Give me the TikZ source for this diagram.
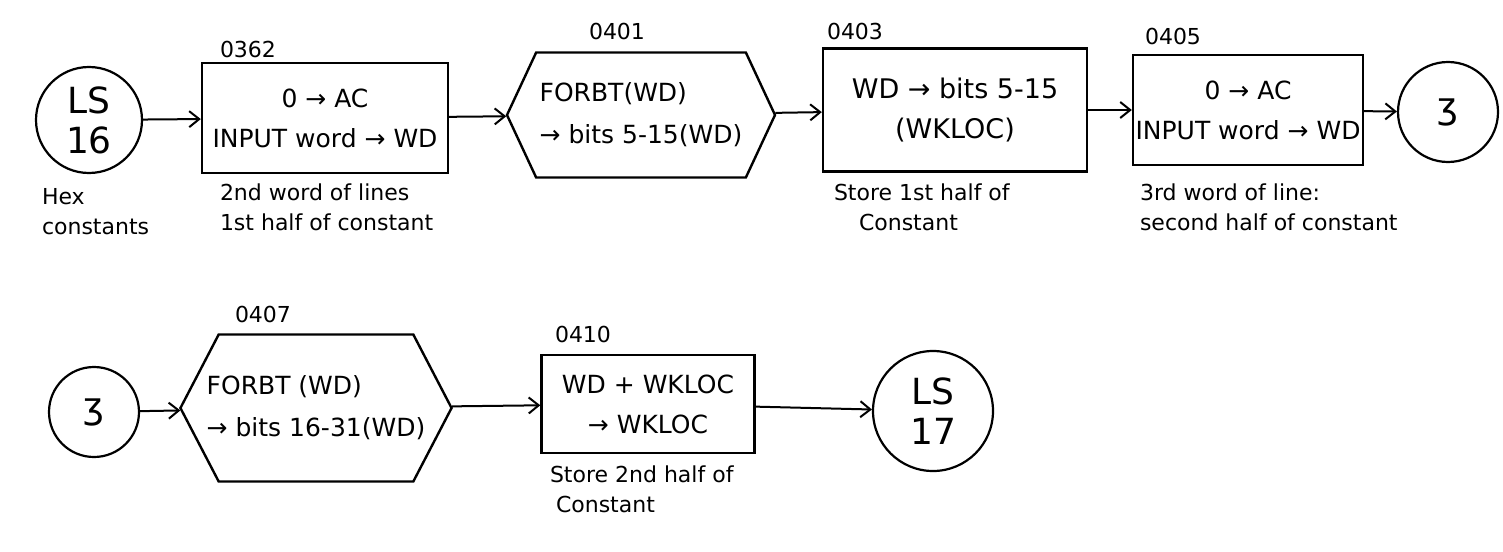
\documentclass[tikz,border=0pt]{standalone}
\usepackage{fontspec}
\setmainfont{DejaVu Sans}
\usetikzlibrary{positioning,shapes.symbols,arrows.meta}

\tikzset{every picture/.style={line width=2pt}}
\tikzset{
  procbox/.style={draw, line width=2.4pt, rectangle, align=center, inner sep=2pt,
    font=\fontsize{25}{40}\selectfont},
  hexbox/.style={draw, line width=2.4pt, signal, signal to=west and east,
    signal pointer angle=130, align=left, inner sep=2pt,
    font=\fontsize{25}{42}\selectfont},
  connect/.style={draw, circle, line width=2.2pt, align=center, inner sep=0pt,
    font=\fontsize{36}{40}\selectfont},
  addr/.style={inner sep=1pt, font=\fontsize{22}{24}\selectfont},
  note/.style={inner sep=1pt, align=left, font=\fontsize{22}{30}\selectfont},
}

\begin{document}
\begin{tikzpicture}[x=1pt,y=1pt,yscale=-1,xscale=1,>={Straight Barb[length=10pt,width=16pt]}]

\useasboundingbox (0,0) rectangle (1503,551);

% first row
\node [connect, minimum size=106] (ls16) at (89,120) {LS\\16};
\node [procbox, minimum width=246, minimum height=110] (b0362) at (325,118) {0 → AC\\INPUT word → WD};
\node [hexbox, minimum width=268, minimum height=125] (h0401) at (641,115) {FORBT(WD)\\→ bits 5-15(WD)};
\node [procbox, minimum width=264, minimum height=123, font=\fontsize{27}{40}\selectfont] (b0403) at (955,110) {WD → bits 5-15\\(WKLOC)};
\node [procbox, minimum width=230, minimum height=110] (b0405) at (1248,110) {0 → AC\\INPUT word → WD};
\node [connect, minimum size=100] (zout) at (1448,112) {ʒ};

\draw [->] (ls16) -- (b0362);
\draw [->] (b0362) -- (h0401);
\draw [->] (h0401) -- (b0403);
\draw [->] (b0403) -- (b0405);
\draw [->] (b0405) -- (zout);

\node [addr, anchor=south west] (l0362) at (218,60) {0362};
\node [addr, anchor=south west] (l0401) at (587,42) {0401};
\node [addr, anchor=south west] (l0403) at (825,42) {0403};
\node [addr, anchor=south west] (l0405) at (1143,47) {0405};

\node [note, anchor=north west] (nhex) at (40,186) {Hex\\constants};
\node [note, anchor=north west] (n0362) at (218,182) {2nd word of lines\\1st half of constant};
\node [note, anchor=north west] (n0403) at (832,182) {Store 1st half of\\\hspace*{25pt}Constant};
\node [note, anchor=north west] (n0405) at (1138,182) {3rd word of line:\\second half of constant};

% second row
\node [connect, minimum size=90] (zin) at (94,412) {ʒ};
\node [hexbox, signal pointer angle=125, inner xsep=-12pt, minimum width=262, minimum height=147] (h0407) at (316,408) {FORBT (WD)\\→ bits 16-31(WD)};
\node [procbox, minimum width=213, minimum height=98] (b0410) at (648,404) {WD + WKLOC\\→ WKLOC};
\node [connect, minimum size=120] (ls17) at (933,411) {LS\\17};

\draw [->] (zin) -- (h0407);
\draw [->] (h0407) -- (b0410);
\draw [->] (b0410) -- (ls17);

\node [addr, anchor=south west] (l0407) at (233,325) {0407};
\node [addr, anchor=south west] (l0410) at (553,345) {0410};

\node [note, anchor=north west] (n0410) at (548,464) {Store 2nd half of\\\hspace*{6pt}Constant};

\end{tikzpicture}
\end{document}
